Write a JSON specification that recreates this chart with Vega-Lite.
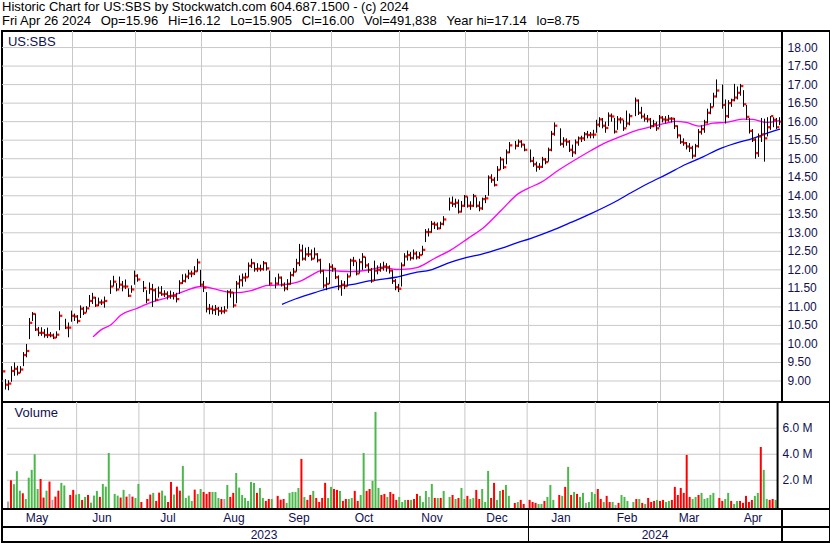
{
"$schema": "https://vega.github.io/schema/vega-lite/v6.json",
"padding": {"top": 1, "left": 0, "right": 0, "bottom": 0},
"background": "white",
"spacing": 0,
"bounds": "flush",
"title": {"text": ["Historic Chart for US:SBS by Stockwatch.com 604.687.1500 - (c) 2024", "Fri Apr 26 2024\u00a0 \u2009Op=15.96\u00a0 \u2009Hi=16.12\u00a0 \u2009Lo=15.905\u00a0 \u2009Cl=16.00\u00a0 \u2009Vol=491,838\u00a0 \u2009Year hi=17.14\u00a0 \u2009lo=8.75"], "anchor": "start", "frame": "group", "font": "Liberation Sans", "fontSize": 13, "fontWeight": "normal", "color": "#000000", "lineHeight": 14, "offset": 1, "dx": 0},
"config": {"view": {"stroke": "#000000", "strokeWidth": 2}, "font": "Liberation Sans", "concat": {"spacing": 0}},
"resolve": {"scale": {"x": "independent", "y": "independent", "color": "independent"}},
"datasets": {
"bars": [
{"d":0,"h":9.42,"l":9.13,"c":9.26,"v":0.36,"dir":"flat"},
{"d":1,"h":9.05,"l":8.77,"c":8.90,"v":2.0,"dir":"down"},
{"d":2,"h":9.02,"l":8.75,"c":8.93,"v":1.7,"dir":"up"},
{"d":3,"h":9.40,"l":8.98,"c":9.27,"v":2.7,"dir":"up"},
{"d":4,"h":9.50,"l":9.14,"c":9.33,"v":1.2,"dir":"up"},
{"d":5,"h":9.41,"l":9.15,"c":9.22,"v":1.0,"dir":"down"},
{"d":6,"h":9.40,"l":9.22,"c":9.31,"v":0.56,"dir":"up"},
{"d":7,"h":9.78,"l":9.40,"c":9.70,"v":2.2,"dir":"up"},
{"d":8,"h":10.00,"l":9.64,"c":9.81,"v":2.8,"dir":"up"},
{"d":9,"h":10.70,"l":10.13,"c":10.57,"v":4.0,"dir":"up"},
{"d":10,"h":10.86,"l":10.62,"c":10.81,"v":1.33,"dir":"up"},
{"d":11,"h":10.82,"l":10.35,"c":10.39,"v":2.1,"dir":"down"},
{"d":12,"h":10.46,"l":10.21,"c":10.30,"v":0.67,"dir":"down"},
{"d":13,"h":10.45,"l":10.22,"c":10.30,"v":1.2,"dir":"up"},
{"d":14,"h":10.40,"l":10.17,"c":10.24,"v":1.9,"dir":"down"},
{"d":15,"h":10.44,"l":10.16,"c":10.24,"v":0.5,"dir":"flat"},
{"d":16,"h":10.32,"l":10.18,"c":10.23,"v":0.74,"dir":"down"},
{"d":17,"h":10.28,"l":10.13,"c":10.17,"v":1.2,"dir":"down"},
{"d":18,"h":10.34,"l":10.16,"c":10.25,"v":1.8,"dir":"up"},
{"d":19,"h":10.88,"l":10.37,"c":10.76,"v":1.6,"dir":"up"},
{"d":21,"h":10.68,"l":10.40,"c":10.44,"v":0.87,"dir":"down"},
{"d":22,"h":10.58,"l":10.18,"c":10.44,"v":1.26,"dir":"down"},
{"d":23,"h":10.90,"l":10.60,"c":10.76,"v":0.9,"dir":"up"},
{"d":24,"h":10.82,"l":10.62,"c":10.74,"v":0.95,"dir":"up"},
{"d":25,"h":10.78,"l":10.55,"c":10.62,"v":0.49,"dir":"down"},
{"d":26,"h":11.04,"l":10.70,"c":10.95,"v":0.72,"dir":"up"},
{"d":27,"h":11.00,"l":10.78,"c":10.84,"v":0.87,"dir":"down"},
{"d":28,"h":11.02,"l":10.85,"c":10.96,"v":0.28,"dir":"up"},
{"d":29,"h":11.32,"l":11.00,"c":11.16,"v":0.82,"dir":"up"},
{"d":30,"h":11.38,"l":11.08,"c":11.25,"v":1.18,"dir":"up"},
{"d":31,"h":11.27,"l":11.00,"c":11.04,"v":0.72,"dir":"down"},
{"d":32,"h":11.25,"l":11.02,"c":11.12,"v":1.72,"dir":"up"},
{"d":33,"h":11.20,"l":11.05,"c":11.12,"v":1.51,"dir":"up"},
{"d":34,"h":11.28,"l":10.98,"c":11.16,"v":4.1,"dir":"up"},
{"d":36,"h":11.72,"l":11.35,"c":11.55,"v":0.95,"dir":"up"},
{"d":37,"h":11.84,"l":11.55,"c":11.68,"v":0.82,"dir":"up"},
{"d":38,"h":11.64,"l":11.42,"c":11.47,"v":0.67,"dir":"down"},
{"d":39,"h":11.82,"l":11.50,"c":11.60,"v":1.26,"dir":"up"},
{"d":40,"h":11.70,"l":11.42,"c":11.55,"v":0.74,"dir":"down"},
{"d":41,"h":11.74,"l":11.48,"c":11.55,"v":0.95,"dir":"flat"},
{"d":42,"h":11.50,"l":11.27,"c":11.30,"v":0.74,"dir":"down"},
{"d":43,"h":11.58,"l":11.38,"c":11.47,"v":0.64,"dir":"up"},
{"d":44,"h":11.98,"l":11.60,"c":11.84,"v":1.72,"dir":"up"},
{"d":45,"h":11.88,"l":11.68,"c":11.74,"v":0.33,"dir":"down"},
{"d":47,"h":11.70,"l":11.40,"c":11.51,"v":0.56,"dir":"down"},
{"d":48,"h":11.45,"l":11.10,"c":11.19,"v":0.9,"dir":"down"},
{"d":49,"h":11.66,"l":11.35,"c":11.48,"v":1.03,"dir":"up"},
{"d":50,"h":11.62,"l":11.00,"c":11.45,"v":0.41,"dir":"down"},
{"d":51,"h":11.50,"l":11.15,"c":11.19,"v":1.05,"dir":"down"},
{"d":52,"h":11.55,"l":11.25,"c":11.38,"v":1.2,"dir":"up"},
{"d":53,"h":11.56,"l":11.30,"c":11.34,"v":0.82,"dir":"up"},
{"d":54,"h":11.45,"l":11.27,"c":11.35,"v":0.33,"dir":"down"},
{"d":55,"h":11.42,"l":11.20,"c":11.29,"v":1.87,"dir":"down"},
{"d":56,"h":11.44,"l":11.22,"c":11.30,"v":0.9,"dir":"up"},
{"d":57,"h":11.40,"l":11.20,"c":11.30,"v":1.51,"dir":"down"},
{"d":58,"h":11.38,"l":11.12,"c":11.21,"v":1.2,"dir":"down"},
{"d":59,"h":11.72,"l":11.35,"c":11.64,"v":3.1,"dir":"up"},
{"d":60,"h":11.88,"l":11.62,"c":11.70,"v":0.64,"dir":"up"},
{"d":61,"h":11.90,"l":11.66,"c":11.82,"v":0.82,"dir":"up"},
{"d":62,"h":12.00,"l":11.75,"c":11.90,"v":0.41,"dir":"up"},
{"d":63,"h":11.98,"l":11.80,"c":11.90,"v":1.28,"dir":"down"},
{"d":64,"h":12.10,"l":11.86,"c":11.96,"v":0.95,"dir":"up"},
{"d":65,"h":12.30,"l":11.95,"c":12.20,"v":1.33,"dir":"up"},
{"d":66,"h":12.00,"l":11.55,"c":11.60,"v":1.1,"dir":"down"},
{"d":67,"h":11.70,"l":11.40,"c":11.52,"v":0.95,"dir":"down"},
{"d":68,"h":11.40,"l":10.85,"c":10.95,"v":1.1,"dir":"down"},
{"d":69,"h":11.08,"l":10.80,"c":10.95,"v":1.1,"dir":"up"},
{"d":70,"h":11.04,"l":10.80,"c":10.92,"v":1.1,"dir":"up"},
{"d":71,"h":11.05,"l":10.78,"c":10.95,"v":0.64,"dir":"up"},
{"d":72,"h":11.00,"l":10.76,"c":10.89,"v":0.56,"dir":"down"},
{"d":73,"h":11.00,"l":10.80,"c":10.88,"v":0.56,"dir":"flat"},
{"d":74,"h":11.02,"l":10.82,"c":10.90,"v":1.64,"dir":"up"},
{"d":75,"h":11.45,"l":10.95,"c":11.40,"v":0.72,"dir":"down"},
{"d":76,"h":11.48,"l":11.25,"c":11.39,"v":1.03,"dir":"down"},
{"d":77,"h":11.40,"l":10.98,"c":11.04,"v":2.56,"dir":"up"},
{"d":78,"h":11.70,"l":11.10,"c":11.63,"v":1.44,"dir":"up"},
{"d":79,"h":11.85,"l":11.50,"c":11.72,"v":0.87,"dir":"up"},
{"d":80,"h":11.90,"l":11.55,"c":11.79,"v":0.64,"dir":"up"},
{"d":81,"h":11.92,"l":11.68,"c":11.80,"v":0.41,"dir":"up"},
{"d":82,"h":12.20,"l":11.80,"c":12.11,"v":1.87,"dir":"up"},
{"d":83,"h":12.30,"l":12.05,"c":12.18,"v":1.8,"dir":"up"},
{"d":84,"h":12.20,"l":11.95,"c":12.02,"v":1.03,"dir":"down"},
{"d":85,"h":12.18,"l":11.95,"c":12.03,"v":1.41,"dir":"up"},
{"d":86,"h":12.14,"l":11.96,"c":12.02,"v":0.64,"dir":"up"},
{"d":87,"h":12.24,"l":11.98,"c":12.18,"v":0.41,"dir":"down"},
{"d":88,"h":12.20,"l":11.98,"c":12.04,"v":0.56,"dir":"down"},
{"d":89,"h":11.98,"l":11.58,"c":11.63,"v":0.56,"dir":"up"},
{"d":91,"h":11.80,"l":11.50,"c":11.63,"v":0.8,"dir":"down"},
{"d":92,"h":11.90,"l":11.60,"c":11.79,"v":0.51,"dir":"down"},
{"d":93,"h":11.82,"l":11.55,"c":11.60,"v":0.56,"dir":"down"},
{"d":94,"h":11.66,"l":11.42,"c":11.50,"v":0.26,"dir":"up"},
{"d":95,"h":11.75,"l":11.45,"c":11.62,"v":1.03,"dir":"up"},
{"d":96,"h":11.95,"l":11.60,"c":11.86,"v":1.1,"dir":"up"},
{"d":97,"h":12.05,"l":11.82,"c":11.95,"v":1.1,"dir":"up"},
{"d":98,"h":12.30,"l":11.95,"c":12.18,"v":1.41,"dir":"up"},
{"d":99,"h":12.70,"l":12.10,"c":12.52,"v":3.64,"dir":"down"},
{"d":100,"h":12.68,"l":12.25,"c":12.30,"v":0.72,"dir":"up"},
{"d":101,"h":12.60,"l":12.25,"c":12.42,"v":0.49,"dir":"down"},
{"d":102,"h":12.62,"l":12.35,"c":12.42,"v":0.87,"dir":"down"},
{"d":103,"h":12.55,"l":12.25,"c":12.30,"v":1.18,"dir":"up"},
{"d":104,"h":12.60,"l":12.30,"c":12.42,"v":0.64,"dir":"down"},
{"d":105,"h":12.45,"l":12.20,"c":12.26,"v":0.33,"dir":"down"},
{"d":106,"h":12.30,"l":11.90,"c":11.97,"v":0.64,"dir":"down"},
{"d":107,"h":12.00,"l":11.50,"c":11.58,"v":1.8,"dir":"down"},
{"d":108,"h":11.80,"l":11.45,"c":11.62,"v":0.64,"dir":"up"},
{"d":109,"h":12.18,"l":11.62,"c":12.08,"v":1.49,"dir":"up"},
{"d":110,"h":12.15,"l":11.95,"c":12.03,"v":1.33,"dir":"down"},
{"d":111,"h":12.05,"l":11.75,"c":11.80,"v":1.26,"dir":"down"},
{"d":112,"h":11.85,"l":11.45,"c":11.55,"v":1.18,"dir":"up"},
{"d":113,"h":11.72,"l":11.30,"c":11.60,"v":0.41,"dir":"down"},
{"d":114,"h":11.70,"l":11.48,"c":11.56,"v":0.56,"dir":"down"},
{"d":115,"h":11.90,"l":11.55,"c":11.82,"v":0.56,"dir":"up"},
{"d":116,"h":12.30,"l":11.82,"c":12.25,"v":0.64,"dir":"up"},
{"d":117,"h":12.35,"l":12.10,"c":12.24,"v":1.18,"dir":"down"},
{"d":118,"h":12.22,"l":11.85,"c":11.90,"v":0.41,"dir":"down"},
{"d":119,"h":12.30,"l":11.90,"c":12.21,"v":0.87,"dir":"up"},
{"d":120,"h":12.45,"l":12.00,"c":12.35,"v":4.1,"dir":"up"},
{"d":121,"h":12.35,"l":12.05,"c":12.12,"v":1.18,"dir":"down"},
{"d":122,"h":12.18,"l":11.92,"c":12.00,"v":1.33,"dir":"down"},
{"d":123,"h":12.05,"l":11.65,"c":11.71,"v":1.95,"dir":"up"},
{"d":124,"h":12.25,"l":11.70,"c":11.98,"v":7.26,"dir":"up"},
{"d":125,"h":12.12,"l":11.88,"c":12.00,"v":1.41,"dir":"up"},
{"d":126,"h":12.18,"l":11.95,"c":12.05,"v":0.87,"dir":"down"},
{"d":127,"h":12.22,"l":11.98,"c":12.09,"v":0.95,"dir":"down"},
{"d":128,"h":12.18,"l":11.95,"c":12.07,"v":0.72,"dir":"up"},
{"d":129,"h":12.12,"l":11.90,"c":11.98,"v":1.1,"dir":"down"},
{"d":130,"h":12.00,"l":11.62,"c":11.70,"v":0.95,"dir":"down"},
{"d":131,"h":11.75,"l":11.45,"c":11.53,"v":0.49,"dir":"down"},
{"d":132,"h":11.62,"l":11.40,"c":11.49,"v":0.72,"dir":"up"},
{"d":133,"h":12.20,"l":11.55,"c":12.12,"v":0.33,"dir":"up"},
{"d":134,"h":12.45,"l":12.10,"c":12.36,"v":0.49,"dir":"up"},
{"d":135,"h":12.52,"l":12.25,"c":12.40,"v":0.49,"dir":"down"},
{"d":136,"h":12.48,"l":12.25,"c":12.32,"v":0.49,"dir":"up"},
{"d":137,"h":12.55,"l":12.28,"c":12.44,"v":0.56,"dir":"down"},
{"d":138,"h":12.50,"l":12.28,"c":12.34,"v":0.95,"dir":"down"},
{"d":139,"h":12.48,"l":12.30,"c":12.40,"v":0.8,"dir":"up"},
{"d":140,"h":12.65,"l":12.40,"c":12.54,"v":0.33,"dir":"up"},
{"d":141,"h":13.10,"l":12.75,"c":13.02,"v":1.18,"dir":"up"},
{"d":142,"h":13.12,"l":12.90,"c":13.02,"v":0.72,"dir":"flat"},
{"d":143,"h":13.32,"l":13.00,"c":13.24,"v":1.72,"dir":"up"},
{"d":144,"h":13.30,"l":13.10,"c":13.22,"v":0.64,"dir":"down"},
{"d":145,"h":13.28,"l":13.08,"c":13.12,"v":0.64,"dir":"up"},
{"d":146,"h":13.30,"l":13.10,"c":13.24,"v":0.64,"dir":"down"},
{"d":147,"h":13.45,"l":13.20,"c":13.36,"v":1.18,"dir":"up"},
{"d":149,"h":13.95,"l":13.60,"c":13.81,"v":0.72,"dir":"up"},
{"d":150,"h":13.98,"l":13.70,"c":13.78,"v":0.87,"dir":"down"},
{"d":151,"h":13.92,"l":13.68,"c":13.81,"v":0.56,"dir":"up"},
{"d":152,"h":13.90,"l":13.52,"c":13.57,"v":0.64,"dir":"down"},
{"d":153,"h":13.86,"l":13.55,"c":13.73,"v":1.41,"dir":"up"},
{"d":154,"h":14.02,"l":13.70,"c":13.98,"v":0.56,"dir":"up"},
{"d":155,"h":13.98,"l":13.68,"c":13.73,"v":0.8,"dir":"down"},
{"d":156,"h":13.85,"l":13.62,"c":13.73,"v":0.56,"dir":"up"},
{"d":157,"h":14.05,"l":13.70,"c":13.99,"v":0.64,"dir":"up"},
{"d":158,"h":13.96,"l":13.68,"c":13.73,"v":1.26,"dir":"down"},
{"d":159,"h":13.85,"l":13.58,"c":13.66,"v":0.56,"dir":"down"},
{"d":160,"h":13.95,"l":13.62,"c":13.91,"v":1.33,"dir":"up"},
{"d":161,"h":14.02,"l":13.80,"c":13.93,"v":0.33,"dir":"up"},
{"d":162,"h":14.55,"l":14.00,"c":14.49,"v":2.72,"dir":"up"},
{"d":163,"h":14.58,"l":14.35,"c":14.43,"v":0.64,"dir":"down"},
{"d":164,"h":14.50,"l":14.25,"c":14.29,"v":1.8,"dir":"down"},
{"d":165,"h":14.80,"l":14.40,"c":14.70,"v":0.49,"dir":"up"},
{"d":166,"h":15.05,"l":14.70,"c":14.98,"v":1.18,"dir":"up"},
{"d":167,"h":15.00,"l":14.72,"c":14.77,"v":1.26,"dir":"down"},
{"d":168,"h":15.25,"l":14.85,"c":15.17,"v":1.64,"dir":"up"},
{"d":169,"h":15.45,"l":15.15,"c":15.36,"v":0.8,"dir":"up"},
{"d":171,"h":15.48,"l":15.25,"c":15.35,"v":0.26,"dir":"down"},
{"d":172,"h":15.52,"l":15.32,"c":15.46,"v":0.33,"dir":"up"},
{"d":173,"h":15.50,"l":15.30,"c":15.38,"v":0.49,"dir":"down"},
{"d":174,"h":15.40,"l":15.20,"c":15.24,"v":0.18,"dir":"down"},
{"d":176,"h":15.25,"l":14.90,"c":14.94,"v":0.49,"dir":"down"},
{"d":177,"h":15.05,"l":14.78,"c":14.85,"v":0.33,"dir":"down"},
{"d":178,"h":14.92,"l":14.65,"c":14.78,"v":0.26,"dir":"down"},
{"d":179,"h":14.88,"l":14.70,"c":14.78,"v":0.18,"dir":"up"},
{"d":180,"h":15.05,"l":14.75,"c":14.98,"v":0.18,"dir":"up"},
{"d":181,"h":15.02,"l":14.85,"c":14.91,"v":0.41,"dir":"down"},
{"d":182,"h":15.30,"l":14.92,"c":15.24,"v":0.72,"dir":"up"},
{"d":183,"h":15.75,"l":15.20,"c":15.67,"v":1.64,"dir":"up"},
{"d":184,"h":15.98,"l":15.62,"c":15.89,"v":0.49,"dir":"up"},
{"d":186,"h":15.82,"l":15.35,"c":15.40,"v":0.87,"dir":"down"},
{"d":187,"h":15.58,"l":15.30,"c":15.49,"v":0.8,"dir":"up"},
{"d":188,"h":15.55,"l":15.35,"c":15.46,"v":1.49,"dir":"down"},
{"d":189,"h":15.50,"l":15.18,"c":15.24,"v":3.03,"dir":"up"},
{"d":190,"h":15.38,"l":15.05,"c":15.17,"v":0.87,"dir":"down"},
{"d":191,"h":15.52,"l":15.12,"c":15.44,"v":1.1,"dir":"up"},
{"d":192,"h":15.60,"l":15.35,"c":15.55,"v":0.95,"dir":"down"},
{"d":193,"h":15.62,"l":15.45,"c":15.55,"v":0.72,"dir":"up"},
{"d":194,"h":15.72,"l":15.48,"c":15.66,"v":1.03,"dir":"up"},
{"d":195,"h":15.75,"l":15.55,"c":15.64,"v":0.26,"dir":"flat"},
{"d":196,"h":15.72,"l":15.55,"c":15.65,"v":0.33,"dir":"up"},
{"d":197,"h":15.78,"l":15.55,"c":15.65,"v":1.1,"dir":"up"},
{"d":198,"h":16.05,"l":15.70,"c":15.92,"v":0.95,"dir":"up"},
{"d":199,"h":16.12,"l":15.85,"c":16.06,"v":1.33,"dir":"down"},
{"d":200,"h":16.10,"l":15.82,"c":15.89,"v":0.56,"dir":"down"},
{"d":201,"h":16.00,"l":15.70,"c":15.83,"v":0.33,"dir":"up"},
{"d":202,"h":16.25,"l":15.88,"c":16.16,"v":0.8,"dir":"down"},
{"d":203,"h":16.22,"l":16.00,"c":16.14,"v":0.33,"dir":"down"},
{"d":204,"h":16.10,"l":15.68,"c":15.73,"v":0.33,"dir":"up"},
{"d":205,"h":16.15,"l":15.78,"c":16.06,"v":0.1,"dir":"flat"},
{"d":206,"h":16.12,"l":15.95,"c":16.06,"v":0.26,"dir":"down"},
{"d":207,"h":16.05,"l":15.75,"c":15.82,"v":0.87,"dir":"up"},
{"d":208,"h":16.30,"l":15.85,"c":15.95,"v":0.72,"dir":"up"},
{"d":209,"h":16.22,"l":15.90,"c":16.15,"v":0.41,"dir":"up"},
{"d":211,"h":16.65,"l":16.15,"c":16.57,"v":0.33,"dir":"up"},
{"d":212,"h":16.60,"l":16.18,"c":16.24,"v":0.56,"dir":"down"},
{"d":213,"h":16.40,"l":16.08,"c":16.14,"v":0.56,"dir":"up"},
{"d":214,"h":16.22,"l":16.00,"c":16.08,"v":0.26,"dir":"down"},
{"d":215,"h":16.18,"l":15.98,"c":16.06,"v":0.18,"dir":"up"},
{"d":216,"h":16.10,"l":15.80,"c":15.88,"v":0.64,"dir":"down"},
{"d":217,"h":16.05,"l":15.85,"c":15.93,"v":0.33,"dir":"down"},
{"d":218,"h":16.00,"l":15.75,"c":15.82,"v":0.41,"dir":"down"},
{"d":219,"h":16.18,"l":15.85,"c":16.11,"v":0.49,"dir":"up"},
{"d":220,"h":16.15,"l":15.98,"c":16.06,"v":0.41,"dir":"down"},
{"d":221,"h":16.15,"l":15.95,"c":16.05,"v":0.49,"dir":"down"},
{"d":222,"h":16.18,"l":16.00,"c":16.08,"v":0.33,"dir":"up"},
{"d":223,"h":16.12,"l":15.98,"c":16.08,"v":0.41,"dir":"up"},
{"d":224,"h":16.10,"l":15.80,"c":15.88,"v":0.49,"dir":"down"},
{"d":225,"h":15.90,"l":15.55,"c":15.63,"v":1.49,"dir":"down"},
{"d":226,"h":15.65,"l":15.40,"c":15.45,"v":0.87,"dir":"down"},
{"d":227,"h":15.55,"l":15.35,"c":15.42,"v":1.41,"dir":"down"},
{"d":228,"h":15.45,"l":15.25,"c":15.33,"v":1.03,"dir":"down"},
{"d":229,"h":15.42,"l":15.18,"c":15.29,"v":3.95,"dir":"down"},
{"d":230,"h":15.35,"l":15.00,"c":15.08,"v":0.72,"dir":"down"},
{"d":231,"h":15.40,"l":15.05,"c":15.34,"v":0.56,"dir":"up"},
{"d":232,"h":15.80,"l":15.30,"c":15.72,"v":0.72,"dir":"up"},
{"d":233,"h":15.90,"l":15.65,"c":15.80,"v":0.87,"dir":"down"},
{"d":234,"h":16.05,"l":15.70,"c":15.98,"v":1.03,"dir":"up"},
{"d":235,"h":16.35,"l":15.95,"c":16.24,"v":0.56,"dir":"up"},
{"d":236,"h":16.50,"l":16.20,"c":16.39,"v":0.64,"dir":"up"},
{"d":237,"h":16.78,"l":16.40,"c":16.68,"v":0.87,"dir":"up"},
{"d":238,"h":17.14,"l":16.65,"c":16.84,"v":1.03,"dir":"up"},
{"d":240,"h":17.00,"l":16.35,"c":16.45,"v":0.64,"dir":"down"},
{"d":241,"h":16.60,"l":15.95,"c":16.15,"v":0.41,"dir":"down"},
{"d":242,"h":16.58,"l":16.10,"c":16.50,"v":0.56,"dir":"up"},
{"d":243,"h":16.62,"l":16.40,"c":16.58,"v":1.03,"dir":"up"},
{"d":244,"h":17.02,"l":16.55,"c":16.65,"v":0.41,"dir":"down"},
{"d":245,"h":16.95,"l":16.60,"c":16.78,"v":0.18,"dir":"up"},
{"d":246,"h":17.02,"l":16.70,"c":16.96,"v":0.41,"dir":"up"},
{"d":247,"h":16.85,"l":16.40,"c":16.47,"v":0.41,"dir":"down"},
{"d":248,"h":16.45,"l":16.05,"c":16.13,"v":0.26,"dir":"down"},
{"d":249,"h":16.10,"l":15.68,"c":15.75,"v":0.8,"dir":"down"},
{"d":250,"h":15.80,"l":15.45,"c":15.51,"v":0.33,"dir":"down"},
{"d":251,"h":15.55,"l":15.00,"c":15.15,"v":0.49,"dir":"down"},
{"d":252,"h":15.68,"l":15.05,"c":15.60,"v":0.8,"dir":"up"},
{"d":253,"h":16.10,"l":15.45,"c":15.66,"v":1.03,"dir":"up"},
{"d":254,"h":16.08,"l":14.92,"c":15.55,"v":4.56,"dir":"down"},
{"d":255,"h":16.12,"l":15.60,"c":15.85,"v":2.8,"dir":"up"},
{"d":256,"h":16.15,"l":15.78,"c":16.15,"v":0.56,"dir":"up"},
{"d":257,"h":16.12,"l":15.85,"c":16.05,"v":0.49,"dir":"down"},
{"d":258,"h":16.10,"l":15.80,"c":15.85,"v":0.56,"dir":"down"},
{"d":259,"h":16.12,"l":15.905,"c":16.00,"v":0.49,"dir":"up"}
],
"ma": [
{"d":30.17,"v":10.19,"s":"m1"},{"d":32.83,"v":10.38,"s":"m1"},{"d":36.17,"v":10.52,"s":"m1"},{"d":39.5,"v":10.78,"s":"m1"},{"d":44.5,"v":10.95,"s":"m1"},{"d":49.5,"v":11.12,"s":"m1"},{"d":55.17,"v":11.26,"s":"m1"},{"d":60.5,"v":11.42,"s":"m1"},{"d":66.17,"v":11.55,"s":"m1"},{"d":71.83,"v":11.46,"s":"m1"},{"d":77.17,"v":11.38,"s":"m1"},{"d":82.83,"v":11.44,"s":"m1"},{"d":88.5,"v":11.58,"s":"m1"},{"d":93.83,"v":11.60,"s":"m1"},{"d":99.5,"v":11.70,"s":"m1"},{"d":103.5,"v":11.88,"s":"m1"},{"d":106.83,"v":11.99,"s":"m1"},{"d":111.17,"v":11.97,"s":"m1"},{"d":116.17,"v":11.95,"s":"m1"},{"d":122.17,"v":12.00,"s":"m1"},{"d":126.83,"v":12.07,"s":"m1"},{"d":131.17,"v":12.01,"s":"m1"},{"d":134.5,"v":12.02,"s":"m1"},{"d":138.5,"v":12.07,"s":"m1"},{"d":143.83,"v":12.30,"s":"m1"},{"d":149.5,"v":12.54,"s":"m1"},{"d":155.17,"v":12.85,"s":"m1"},{"d":160.5,"v":13.15,"s":"m1"},{"d":166.17,"v":13.60,"s":"m1"},{"d":171.83,"v":14.05,"s":"m1"},{"d":175.17,"v":14.20,"s":"m1"},{"d":179.5,"v":14.36,"s":"m1"},{"d":185.17,"v":14.68,"s":"m1"},{"d":190.5,"v":14.95,"s":"m1"},{"d":196.17,"v":15.22,"s":"m1"},{"d":200.17,"v":15.40,"s":"m1"},{"d":205.5,"v":15.58,"s":"m1"},{"d":211.17,"v":15.76,"s":"m1"},{"d":216.83,"v":15.87,"s":"m1"},{"d":221.17,"v":15.96,"s":"m1"},{"d":224.5,"v":16.01,"s":"m1"},{"d":227.83,"v":15.98,"s":"m1"},{"d":232.17,"v":15.88,"s":"m1"},{"d":236.83,"v":15.96,"s":"m1"},{"d":241.17,"v":15.98,"s":"m1"},{"d":246.83,"v":16.07,"s":"m1"},{"d":250.17,"v":16.06,"s":"m1"},{"d":254.5,"v":15.98,"s":"m1"},{"d":258.83,"v":16.03,"s":"m1"},
{"d":93.17,"v":11.07,"s":"m2"},{"d":97.83,"v":11.22,"s":"m2"},{"d":103.83,"v":11.38,"s":"m2"},{"d":111.17,"v":11.55,"s":"m2"},{"d":116.17,"v":11.60,"s":"m2"},{"d":122.17,"v":11.70,"s":"m2"},{"d":126.83,"v":11.75,"s":"m2"},{"d":131.17,"v":11.80,"s":"m2"},{"d":137.17,"v":11.92,"s":"m2"},{"d":142.83,"v":12.00,"s":"m2"},{"d":148.5,"v":12.18,"s":"m2"},{"d":154.5,"v":12.33,"s":"m2"},{"d":159.5,"v":12.42,"s":"m2"},{"d":166.17,"v":12.58,"s":"m2"},{"d":171.17,"v":12.72,"s":"m2"},{"d":176.17,"v":12.85,"s":"m2"},{"d":182.83,"v":13.05,"s":"m2"},{"d":189.5,"v":13.28,"s":"m2"},{"d":196.17,"v":13.52,"s":"m2"},{"d":205.17,"v":13.88,"s":"m2"},{"d":209.5,"v":14.08,"s":"m2"},{"d":215.17,"v":14.33,"s":"m2"},{"d":221.17,"v":14.57,"s":"m2"},{"d":227.83,"v":14.85,"s":"m2"},{"d":233.5,"v":15.05,"s":"m2"},{"d":238.83,"v":15.26,"s":"m2"},{"d":244.5,"v":15.42,"s":"m2"},{"d":250.17,"v":15.55,"s":"m2"},{"d":254.5,"v":15.68,"s":"m2"},{"d":259.17,"v":15.80,"s":"m2"}
],
"months": [
{"m":"May","mid":11.5},
{"m":"Jun","mid":33.17,"start":23.33},
{"m":"Jul","mid":55.17,"start":44.33},
{"m":"Aug","mid":77.17,"start":66.33},
{"m":"Sep","mid":98.83,"start":89.33},
{"m":"Oct","mid":120.5,"start":109.67},
{"m":"Nov","mid":143.17,"start":132.33},
{"m":"Dec","mid":164.83,"start":154.33},
{"m":"Jan","mid":186.17,"start":175.33},
{"m":"Feb","mid":208.17,"start":198.33},
{"m":"Mar","mid":228.83,"start":219.33},
{"m":"Apr","mid":250.17,"start":240.33}
],
"years": [
{"y":"2023","mid":87.17},
{"y":"2024","mid":217.5}
],
"pgrid": [{"p":9.0},{"p":9.5},{"p":10.0},{"p":10.5},{"p":11.0},{"p":11.5},{"p":12.0},{"p":12.5},{"p":13.0},{"p":13.5},{"p":14.0},{"p":14.5},{"p":15.0},{"p":15.5},{"p":16.0},{"p":16.5},{"p":17.0},{"p":17.5},{"p":18.0}],
"vgrid": [{"p":2,"lab":"2.0 M"},{"p":4,"lab":"4.0 M"},{"p":6,"lab":"6.0 M"}]
},
"vconcat": [
{
"width": 828, "height": 371,
"layer": [
{"data": {"name": "pgrid"}, "mark": {"type": "rule", "color": "#c8c8c8", "strokeWidth": 1},
 "encoding": {
  "x": {"datum": -0.167, "type": "quantitative", "scale": {"domain": [-0.167, 275.833], "nice": false, "zero": false}, "axis": null},
  "x2": {"datum": 259.83},
  "y": {"field": "p", "type": "quantitative", "scale": {"domain": [8.433, 18.447], "nice": false, "zero": false}, "axis": null}
 }},
{"data": {"name": "pgrid"}, "mark": {"type": "text", "align": "left", "baseline": "middle", "font": "Liberation Sans", "fontSize": 12, "color": "#101050"},
 "encoding": {
  "x": {"datum": 261.7, "type": "quantitative", "scale": {"domain": [-0.167, 275.833], "nice": false, "zero": false}, "axis": null},
  "y": {"field": "p", "type": "quantitative", "axis": null},
  "text": {"field": "p", "type": "quantitative", "format": ".2f"}
 }},
{"data": {"name": "months"}, "transform": [{"filter": "isValid(datum.start)"}], "mark": {"type": "rule", "color": "#c8c8c8", "strokeWidth": 1},
 "encoding": {"x": {"field": "start", "type": "quantitative", "scale": {"domain": [-0.167, 275.833], "nice": false, "zero": false}, "axis": null}}},
{"data": {"name": "ma"}, "mark": {"type": "line", "strokeWidth": 1.3, "interpolate": "monotone"},
 "encoding": {
  "x": {"field": "d", "type": "quantitative", "scale": {"domain": [-0.167, 275.833], "nice": false, "zero": false}, "axis": null},
  "y": {"field": "v", "type": "quantitative", "axis": null},
  "color": {"field": "s", "type": "nominal", "scale": {"domain": ["m1", "m2"], "range": ["#ff00ff", "#0000ff"]}, "legend": null}
 }},
{"data": {"name": "bars"}, "mark": {"type": "rule", "color": "#000000", "strokeWidth": 1},
 "encoding": {
  "x": {"field": "d", "type": "quantitative", "scale": {"domain": [-0.167, 275.833], "nice": false, "zero": false}, "axis": null},
  "y": {"field": "l", "type": "quantitative", "axis": null},
  "y2": {"field": "h"}
 }},
{"data": {"name": "bars"}, "mark": {"type": "point", "shape": "square", "filled": true, "size": 5, "color": "#ff0000", "opacity": 1, "xOffset": 1.7},
 "encoding": {
  "x": {"field": "d", "type": "quantitative", "scale": {"domain": [-0.167, 275.833], "nice": false, "zero": false}, "axis": null},
  "y": {"field": "c", "type": "quantitative", "axis": null}
 }},
{"data": {"values": [{"label": "US:SBS"}]}, "mark": {"type": "text", "align": "left", "baseline": "alphabetic", "font": "Liberation Sans", "fontSize": 13, "color": "#101050"},
 "encoding": {
  "x": {"datum": 1.8, "type": "quantitative", "scale": {"domain": [-0.167, 275.833], "nice": false, "zero": false}, "axis": null},
  "y": {"datum": 18.04, "type": "quantitative", "axis": null},
  "text": {"field": "label"}
 }},
{"data": {"values": [{}]}, "mark": {"type": "rule", "color": "#000000", "strokeWidth": 2},
 "encoding": {"x": {"datum": 259.83, "type": "quantitative", "scale": {"domain": [-0.167, 275.833], "nice": false, "zero": false}, "axis": null}}}
]
},
{
"width": 828, "height": 107,
"layer": [
{"data": {"name": "vgrid"}, "mark": {"type": "rule", "color": "#c8c8c8", "strokeWidth": 1},
 "encoding": {
  "x": {"datum": -0.167, "type": "quantitative", "scale": {"domain": [-0.167, 275.833], "nice": false, "zero": false}, "axis": null},
  "x2": {"datum": 259.83},
  "y": {"field": "p", "type": "quantitative", "scale": {"domain": [-0.21, 8.02], "nice": false, "zero": false}, "axis": null}
 }},
{"data": {"name": "vgrid"}, "mark": {"type": "text", "align": "left", "baseline": "middle", "font": "Liberation Sans", "fontSize": 12, "color": "#101050"},
 "encoding": {
  "x": {"datum": 261.5, "type": "quantitative", "scale": {"domain": [-0.167, 275.833], "nice": false, "zero": false}, "axis": null},
  "y": {"field": "p", "type": "quantitative", "axis": null},
  "text": {"field": "lab"}
 }},
{"data": {"name": "months"}, "transform": [{"filter": "isValid(datum.start)"}], "mark": {"type": "rule", "color": "#c8c8c8", "strokeWidth": 1},
 "encoding": {"x": {"field": "start", "type": "quantitative", "scale": {"domain": [-0.167, 275.833], "nice": false, "zero": false}, "axis": null}}},
{"data": {"name": "bars"}, "mark": {"type": "bar", "size": 2, "xOffset": 0.5},
 "encoding": {
  "x": {"field": "d", "type": "quantitative", "scale": {"domain": [-0.167, 275.833], "nice": false, "zero": false}, "axis": null},
  "y": {"field": "v", "type": "quantitative", "axis": null},
  "y2": {"datum": -0.21},
  "color": {"field": "dir", "type": "nominal", "scale": {"domain": ["up", "down", "flat"], "range": ["#4cb84c", "#ff0000", "#a8a8a8"]}, "legend": null}
 }},
{"data": {"values": [{"label": "Volume"}]}, "mark": {"type": "text", "align": "left", "baseline": "alphabetic", "font": "Liberation Sans", "fontSize": 13, "color": "#101050"},
 "encoding": {
  "x": {"datum": 2.4, "type": "quantitative", "scale": {"domain": [-0.167, 275.833], "nice": false, "zero": false}, "axis": null},
  "y": {"datum": 6.85, "type": "quantitative", "axis": null},
  "text": {"field": "label"}
 }},
{"data": {"values": [{}]}, "mark": {"type": "rule", "color": "#000000", "strokeWidth": 2},
 "encoding": {"x": {"datum": 259.83, "type": "quantitative", "scale": {"domain": [-0.167, 275.833], "nice": false, "zero": false}, "axis": null}}}
]
},
{
"width": 828, "height": 18,
"layer": [
{"data": {"name": "months"}, "mark": {"type": "text", "align": "center", "baseline": "middle", "font": "Liberation Sans", "fontSize": 12, "color": "#101050"},
 "encoding": {
  "x": {"field": "mid", "type": "quantitative", "scale": {"domain": [-0.167, 275.833], "nice": false, "zero": false}, "axis": null},
  "text": {"field": "m"}
 }},
{"data": {"values": [{}]}, "mark": {"type": "rule", "color": "#000000", "strokeWidth": 1},
 "encoding": {"x": {"datum": 175.33, "type": "quantitative", "scale": {"domain": [-0.167, 275.833], "nice": false, "zero": false}, "axis": null}}},
{"data": {"values": [{}]}, "mark": {"type": "rule", "color": "#000000", "strokeWidth": 2},
 "encoding": {"x": {"datum": 259.83, "type": "quantitative", "scale": {"domain": [-0.167, 275.833], "nice": false, "zero": false}, "axis": null}}}
]
},
{
"width": 828, "height": 15,
"layer": [
{"data": {"name": "years"}, "mark": {"type": "text", "align": "center", "baseline": "middle", "font": "Liberation Sans", "fontSize": 12, "color": "#101050"},
 "encoding": {
  "x": {"field": "mid", "type": "quantitative", "scale": {"domain": [-0.167, 275.833], "nice": false, "zero": false}, "axis": null},
  "text": {"field": "y"}
 }},
{"data": {"values": [{}]}, "mark": {"type": "rule", "color": "#000000", "strokeWidth": 1},
 "encoding": {"x": {"datum": 175.33, "type": "quantitative", "scale": {"domain": [-0.167, 275.833], "nice": false, "zero": false}, "axis": null}}},
{"data": {"values": [{}]}, "mark": {"type": "rule", "color": "#000000", "strokeWidth": 2},
 "encoding": {"x": {"datum": 259.83, "type": "quantitative", "scale": {"domain": [-0.167, 275.833], "nice": false, "zero": false}, "axis": null}}}
]
}
]
}
